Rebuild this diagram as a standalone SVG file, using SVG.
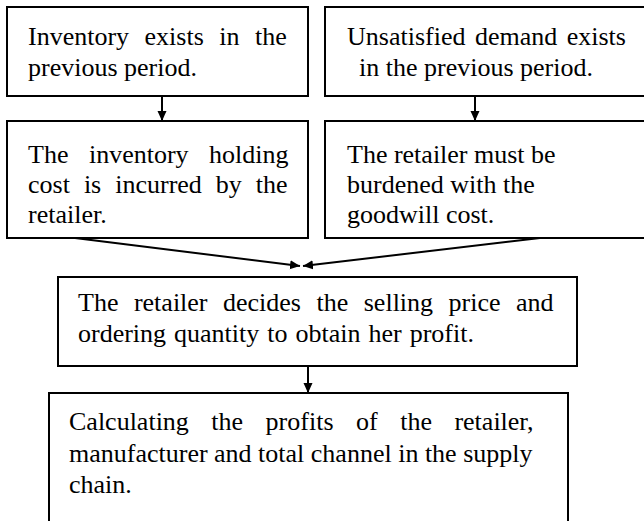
<svg xmlns="http://www.w3.org/2000/svg" width="644" height="521" viewBox="0 0 644 521">
  <style>
    .box { fill: #ffffff; stroke: #000000; stroke-width: 2; }
    .txt { font-family: "Liberation Serif", "Times New Roman", serif; font-size: 26px; fill: #000000; }
    .wire { stroke: #000000; stroke-width: 2; fill: none; }
  </style>
  <defs>
    <marker id="head" viewBox="0 0 10 10" refX="10" refY="5" markerWidth="5" markerHeight="5" orient="auto" markerUnits="strokeWidth">
      <path d="M0,0.5 L10,5 L0,9.5 Z" fill="#000000"/>
    </marker>
  </defs>
  <rect width="644" height="521" fill="#ffffff"/>

  <g id="inventory-exists">
    <rect class="box" x="7" y="7" width="301" height="89"/>
    <text class="txt">
      <tspan x="28" y="45" word-spacing="9">Inventory exists in the</tspan>
      <tspan x="28" y="76">previous period.</tspan>
    </text>
  </g>

  <g id="unsatisfied-demand">
    <rect class="box" x="325" y="7" width="330" height="89"/>
    <text class="txt">
      <tspan x="347" y="45" word-spacing="3">Unsatisfied demand exists</tspan>
      <tspan x="359" y="76">in the previous period.</tspan>
    </text>
  </g>

  <g id="holding-cost">
    <rect class="box" x="7" y="121" width="301" height="117"/>
    <text class="txt">
      <tspan x="28" y="163" word-spacing="14">The inventory holding</tspan>
      <tspan x="28" y="193" word-spacing="7.5">cost is incurred by the</tspan>
      <tspan x="28" y="223">retailer.</tspan>
    </text>
  </g>

  <g id="goodwill-cost">
    <rect class="box" x="325" y="121" width="330" height="117"/>
    <text class="txt">
      <tspan x="347" y="163">The retailer must be</tspan>
      <tspan x="347" y="193">burdened with the</tspan>
      <tspan x="347" y="223">goodwill cost.</tspan>
    </text>
  </g>

  <g id="retailer-decides">
    <rect class="box" x="58" y="277" width="519" height="89"/>
    <text class="txt">
      <tspan x="78" y="311" word-spacing="9">The retailer decides the selling price and</tspan>
      <tspan x="78" y="342" word-spacing="1.5">ordering quantity to obtain her profit.</tspan>
    </text>
  </g>

  <g id="calculating-profits">
    <rect class="box" x="49" y="393" width="519" height="140"/>
    <text class="txt">
      <tspan x="69" y="430" word-spacing="16">Calculating the profits of the retailer,</tspan>
      <tspan x="69" y="462">manufacturer and total channel in the supply</tspan>
      <tspan x="69" y="493">chain.</tspan>
    </text>
  </g>

  <g id="connectors">
    <line class="wire" x1="162" y1="96" x2="162" y2="121" marker-end="url(#head)"/>
    <line class="wire" x1="475" y1="96" x2="475" y2="121" marker-end="url(#head)"/>
    <line class="wire" x1="75" y1="238" x2="300" y2="266" marker-end="url(#head)"/>
    <line class="wire" x1="540" y1="238" x2="303" y2="266" marker-end="url(#head)"/>
    <line class="wire" x1="308" y1="366" x2="308" y2="393" marker-end="url(#head)"/>
  </g>
</svg>
